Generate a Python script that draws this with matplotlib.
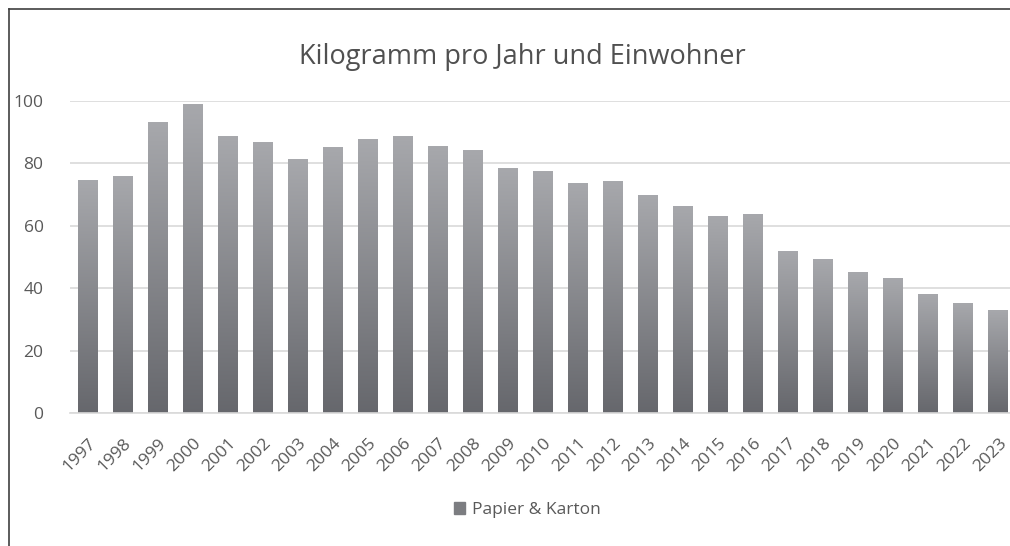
import matplotlib
matplotlib.use("Agg")
import matplotlib.pyplot as plt
import matplotlib.patches as mpatches
from matplotlib.lines import Line2D
import numpy as np

plt.rcParams["font.family"] = ["Open Sans", "DejaVu Sans"]

# Daten: Papier & Karton, kg pro Jahr und Einwohner
jahre = [str(j) for j in range(1997, 2024)]
werte = [74.4, 75.7, 93.1, 98.9, 88.5, 86.8, 81.1, 85.2, 87.8, 88.5,
         85.4, 84.0, 78.4, 77.5, 73.7, 74.2, 69.8, 66.2, 63.1, 63.7,
         51.7, 49.2, 44.9, 43.0, 37.9, 35.2, 32.7]
serie = "Papier & Karton"
titel = "Kilogramm pro Jahr und Einwohner"

W, H = 1010, 546
fig = plt.figure(figsize=(W / 100, H / 100), dpi=100)
ax = fig.add_axes([70 / W, (H - 413) / H, (1010 - 70) / W, (413 - 101) / H])

x = np.arange(len(jahre))
bars = ax.bar(x, werte, width=0.57, color="none", edgecolor="none", zorder=2)

# Verlauf hell (oben) -> dunkel (unten) pro Balken
top = np.array([0.655, 0.659, 0.675])
bot = np.array([0.40, 0.405, 0.425])
grad = np.linspace(0, 1, 256)[:, None, None]
img = bot + (top - bot) * grad  # Zeile 0 unten bei origin="lower"
for b in bars:
    x0, y0 = b.get_x(), b.get_y()
    ax.imshow(img, extent=(x0, x0 + b.get_width(), y0, y0 + b.get_height()),
              origin="lower", aspect="auto", zorder=2, interpolation="bilinear")

ax.set_xlim(-0.5, 26.33)
ax.set_ylim(0, 100)
ax.set_yticks(range(0, 101, 20))
ax.yaxis.grid(True, color="#d9d9d9", lw=1.2, zorder=0)
ax.set_axisbelow(True)
for s in ["top", "right", "left"]:
    ax.spines[s].set_visible(False)
ax.spines["bottom"].set_color("#d9d9d9")
ax.spines["bottom"].set_linewidth(1.2)
ax.tick_params(axis="both", length=0, colors="#595959", labelsize=12.5)
ax.tick_params(axis="y", pad=19)
ax.set_xticks(x)
ax.set_xticklabels(jahre, rotation=45, ha="right", rotation_mode="anchor",
                   fontsize=12.5)
ax.tick_params(axis="x", pad=16)

fig.text(522 / W, 1 - 57 / H, titel, ha="center", va="center",
         fontsize=19.5, color="#505050")

handle = mpatches.Patch(color="#7c7d81", label=serie)
fig.legend(handles=[handle], loc="center", bbox_to_anchor=(527 / W, 1 - 510 / H),
           frameon=False, fontsize=12.5, handlelength=0.65, handleheight=0.65,
           handletextpad=0.4, labelcolor="#595959")

# Diagrammrahmen
fig.add_artist(Line2D([8.5 / W, 8.5 / W], [0, 1 - 8.5 / H], color="#404040", lw=1.2))
fig.add_artist(Line2D([8.5 / W, 1], [1 - 8.5 / H, 1 - 8.5 / H], color="#404040", lw=1.2))

fig.savefig("out.png", dpi=100)
